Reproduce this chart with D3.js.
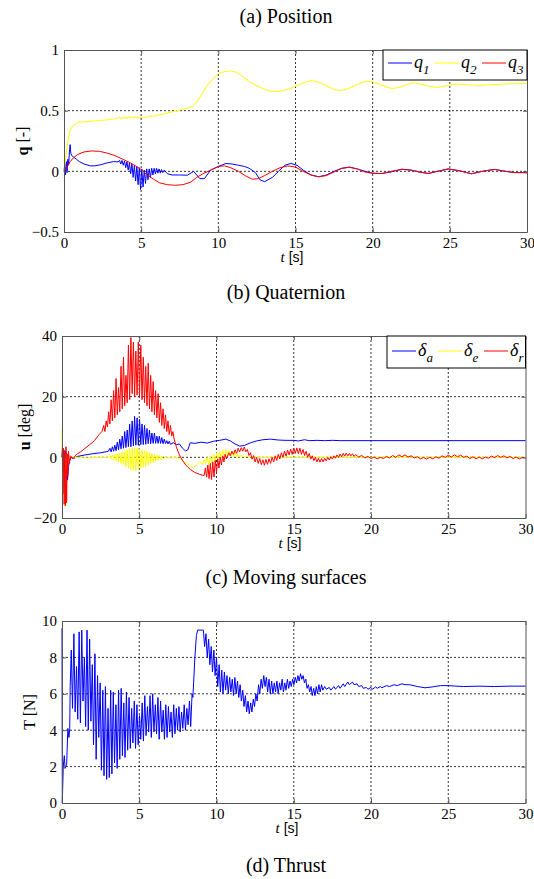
<!DOCTYPE html>
<meta charset="utf-8">
<head>
	<title>Position, quaternion, moving surfaces, thrust</title>
	<script type="text/javascript" src="https://cdn.jsdelivr.net/npm/d3@7/dist/d3.min.js"></script>
	<style>
		body { margin: 0; background: #fff; }
		.axis path { stroke: #555; }
		.axis line { stroke: #555; }
		.grid line { stroke: #000; stroke-dasharray: 2,2; stroke-width: 0.8; }
		.trace { fill: none; stroke-width: 1; stroke-linejoin: round; }
	</style>
</head>

<body>
<div id="chart"></div>

<script>
// ---- data ----
var timeTicks = [0, 5, 10, 15, 20, 25, 30];
var qTicks = [-0.5, 0, 0.5, 1];
var uTicks = [-20, 0, 20, 40];
var thrustTicks = [0, 2, 4, 6, 8, 10];

var titles = ["(a) Position", "(b) Quaternion", "(c) Moving surfaces", "(d) Thrust"];

// q1 (blue)
var q1 = [[0,0],[0.05,0.06],[0.1,-0.03],[0.15,0.08],[0.2,-0.01],[0.25,0.1],[0.3,0.05],[0.36,0.18],[0.4,0.22],[0.44,0.15],
	[0.5,0.13],[0.6,0.12],[0.8,0.1],[1.0,0.08],[1.3,0.06],[1.7,0.045],[2.0,0.045],[2.4,0.055],[2.8,0.07],[3.2,0.08],[3.5,0.078],
	[3.6,0.09],[3.68,0.06],[3.76,0.09],[3.84,0.05],[3.92,0.085],[4.0,0.03],[4.08,0.08],[4.16,0.01],[4.24,0.07],[4.32,-0.02],
	[4.4,0.06],[4.48,-0.05],[4.56,0.05],[4.64,-0.08],[4.72,0.04],[4.8,-0.11],[4.88,0.03],[4.96,-0.15],[5.04,0.02],[5.12,-0.13],
	[5.2,0.01],[5.28,-0.1],[5.36,0.02],[5.44,-0.07],[5.52,0.02],[5.6,-0.05],[5.68,0.025],[5.76,-0.03],[5.84,0.025],[5.92,-0.02],
	[6.0,0.025],[6.08,-0.015],[6.16,0.02],[6.24,-0.015],[6.32,0.015],[6.4,-0.01],[6.5,0.01],[6.7,-0.02],[7.0,-0.03],[7.5,-0.03],
	[8.0,-0.032],[8.4,0.0],[8.8,-0.06],[9.1,-0.06],[9.5,0.01],[10.0,0.04],[10.5,0.065],[10.9,0.06],[11.3,0.05],[11.7,0.04],
	[12.0,0.025],[12.4,-0.01],[12.7,-0.07],[13.0,-0.085],[13.5,-0.05],[13.9,0.0],[14.3,0.05],[14.7,0.065],[15.1,0.05],[15.5,0.01],
	[16.0,-0.03],[16.5,-0.045],[17.0,-0.03],[17.5,0.0],[18.0,0.025],[18.5,0.035],[19.0,0.02],[19.5,0.0],[20.0,-0.015],[20.6,-0.018],
	[21.2,-0.005],[21.9,0.018],[22.5,0.01],[23.0,-0.005],[23.6,-0.018],[24.2,0.0],[24.9,0.02],[25.6,0.005],[26.4,-0.02],[27.1,0.0],
	[27.9,0.016],[28.6,0.0],[29.2,-0.01],[30,-0.012]];

// q2 (yellow)
var q2 = [[0,0],[0.1,0.1],[0.2,0.2],[0.3,0.28],[0.4,0.34],[0.6,0.38],[0.8,0.395],[1.0,0.405],[1.5,0.41],[2.0,0.415],[2.5,0.42],
	[3.0,0.428],[3.4,0.435],[3.6,0.445],[3.7,0.43],[3.8,0.448],[3.9,0.432],[4.0,0.45],[4.1,0.433],[4.2,0.452],[4.3,0.435],
	[4.4,0.453],[4.5,0.436],[4.6,0.452],[4.7,0.437],[4.8,0.45],[4.9,0.438],[5.0,0.448],[5.1,0.44],[5.3,0.447],[5.5,0.45],
	[6.0,0.46],[6.5,0.475],[7.0,0.49],[7.5,0.505],[8.0,0.52],[8.3,0.535],[8.6,0.57],[9.0,0.65],[9.3,0.71],[9.7,0.77],[10.0,0.805],
	[10.4,0.822],[10.8,0.827],[11.2,0.815],[11.6,0.78],[12.0,0.74],[12.5,0.705],[13.0,0.675],[13.5,0.657],[14.0,0.66],[14.5,0.675],
	[15.0,0.7],[15.5,0.73],[16.0,0.748],[16.5,0.735],[17.0,0.705],[17.5,0.675],[17.9,0.665],[18.4,0.68],[19.0,0.715],[19.5,0.74],
	[20.0,0.738],[20.5,0.715],[21.2,0.683],[21.7,0.69],[22.2,0.715],[22.6,0.73],[23.1,0.72],[23.7,0.70],[24.2,0.69],[24.8,0.705],
	[25.5,0.72],[26.2,0.712],[27.0,0.708],[27.8,0.715],[28.6,0.72],[29.3,0.722],[30,0.725]];

// q3 (red)
var q3 = [[0,0],[0.2,0.04],[0.4,0.08],[0.6,0.11],[0.9,0.14],[1.3,0.16],[1.8,0.168],[2.3,0.165],[2.8,0.15],[3.3,0.13],[3.8,0.1],
	[4.3,0.07],[4.7,0.04],[5.0,0.015],[5.4,-0.03],[5.8,-0.065],[6.2,-0.095],[6.7,-0.11],[7.2,-0.115],[7.7,-0.11],[8.2,-0.09],
	[8.6,-0.05],[9.0,-0.02],[9.5,0.01],[10.0,0.04],[10.4,0.045],[10.8,0.03],[11.3,0.0],[11.8,-0.04],[12.2,-0.065],[12.6,-0.06],
	[13.0,-0.035],[13.5,0.0],[14.0,0.03],[14.5,0.045],[15.0,0.035],[15.5,0.0],[16.0,-0.03],[16.5,-0.045],[17.0,-0.035],[17.5,-0.005],
	[18.0,0.025],[18.5,0.033],[19.0,0.02],[19.5,-0.005],[20.0,-0.017],[20.6,-0.018],[21.2,0.0],[21.9,0.016],[22.5,0.01],[23.0,-0.005],
	[23.6,-0.017],[24.2,0.0],[24.9,0.02],[25.6,0.005],[26.4,-0.02],[27.1,0.0],[27.9,0.016],[28.6,0.0],[29.2,-0.01],[30,-0.01]];

// delta_a (blue)
var deltaA = [[0,0],[0.04,3],[0.08,-4],[0.12,2.5],[0.16,-6],[0.2,2],[0.25,-7],[0.3,1.5],[0.36,-7.5],[0.42,-3],[0.5,-1],[0.6,0],
	[0.8,-0.3],[1.0,0.3],[1.5,0.8],[2.0,1.2],[2.5,1.5],[3.0,2.0],[3.1,3],[3.18,1.8],[3.26,3.5],[3.34,2],[3.42,4],[3.5,2.2],[3.58,5],
	[3.66,2.5],[3.74,6],[3.82,2.8],[3.9,7],[3.98,3],[4.06,8.5],[4.14,3.2],[4.22,9],[4.3,3.5],[4.38,11],[4.46,3.5],[4.54,12],[4.62,3.8],
	[4.7,13.5],[4.78,4],[4.86,13],[4.94,4],[5.02,12.5],[5.1,4.2],[5.18,11],[5.26,4.2],[5.34,10.5],[5.42,4.3],[5.5,9.5],[5.58,4.5],
	[5.66,9],[5.74,4.5],[5.82,8],[5.9,4.6],[5.98,8],[6.06,4.6],[6.14,7],[6.22,4.6],[6.3,7],[6.38,4.6],[6.46,6.5],[6.54,4.5],[6.62,6],
	[6.7,4.5],[6.78,5.5],[6.86,4.4],[6.94,5.3],[7.02,4.3],[7.2,4.8],[7.4,4.2],[7.6,4.4],[7.8,3.0],[8.0,2.1],[8.15,2.5],[8.3,4.8],
	[8.6,4.6],[9.0,5.0],[9.4,4.7],[9.8,5.3],[10.2,5.6],[10.6,6.0],[10.9,5.4],[11.2,4.4],[11.5,3.7],[11.8,3.9],[12.2,4.8],[12.6,5.4],
	[13.0,5.8],[13.5,6.0],[14.0,5.7],[14.5,5.6],[15.0,5.6],[15.3,5.4],[15.7,5.8],[16.0,5.5],[16.5,5.6],[17.0,5.5],[17.5,5.6],
	[18.0,5.5],[30,5.5]];

// delta_e (yellow)
var deltaE = [[0,9],[0.04,-6],[0.08,3],[0.12,-10],[0.17,-16],[0.22,-3],[0.27,1],[0.32,-4],[0.38,0.5],[0.45,-0.6],[0.55,0.3],
	[0.8,0],[1.5,-0.2],[2.5,0],[3.0,0],[3.1,0.5],[3.18,-0.5],[3.26,0.8],[3.34,-0.8],[3.42,1],[3.5,-1.2],[3.58,1.2],[3.66,-1.5],
	[3.74,1.5],[3.82,-2],[3.9,1.8],[3.98,-2.5],[4.06,2],[4.14,-3],[4.22,2.5],[4.3,-3.5],[4.38,3],[4.46,-4],[4.54,3.2],[4.62,-4.2],
	[4.7,3],[4.78,-4.5],[4.86,3],[4.94,-4],[5.02,2.8],[5.1,-3.5],[5.18,2.5],[5.26,-3.2],[5.34,2.2],[5.42,-3],[5.5,2],[5.58,-2.5],
	[5.66,1.6],[5.74,-2],[5.82,1.3],[5.9,-1.6],[5.98,1],[6.06,-1.3],[6.14,0.8],[6.22,-1],[6.3,0.6],[6.38,-0.8],[6.46,0.4],[6.54,-0.5],
	[6.7,0.2],[6.9,-0.3],[7.2,0],[7.6,-0.3],[7.9,-1.5],[8.2,-2.4],[8.5,-3.5],[8.7,-2.5],[8.9,-1.6],[9.1,-2.2],[9.2,-0.8],[9.3,-2.2],
	[9.4,0],[9.5,-2.5],[9.6,0.5],[9.7,-2],[9.8,1],[9.9,-1.5],[10.0,1.5],[10.1,-0.8],[10.2,2],[10.3,0],[10.4,2.4],[10.5,0.5],[10.6,2.5],
	[10.7,0.6],[10.8,2.3],[10.9,0.4],[11.0,2.0],[11.1,0.2],[11.2,1.6],[11.3,0],[11.4,1.2],[11.5,0],[11.6,0.8],[11.8,0],[12.0,0.4],
	[12.3,0],[30,0]];

// delta_r (red)
var deltaR = [[0,0],[0.03,3.5],[0.06,-12],[0.1,3],[0.14,-15.5],[0.18,2],[0.22,-16],[0.26,3.5],[0.3,-15],[0.34,1],[0.38,-6],[0.42,2],
	[0.48,-2],[0.55,0.5],[0.7,-0.5],[0.9,0.8],[1.2,1.8],[1.5,3],[1.8,4.2],[2.1,5.5],[2.4,7.5],[2.6,8.6],
	[2.7,10.5],[2.78,8.5],[2.86,12],[2.94,10],[3.02,15],[3.1,11],[3.18,19],[3.26,12],[3.34,22],[3.42,13],[3.5,26],[3.58,14],
	[3.66,23],[3.74,15],[3.82,30],[3.9,16],[3.98,33],[4.06,17],[4.14,27],[4.22,18],[4.3,37],[4.38,19],[4.46,39.5],[4.54,21],
	[4.62,38],[4.7,20],[4.78,35],[4.86,20.5],[4.94,38],[5.02,20],[5.1,37],[5.18,19],[5.26,33],[5.34,18],[5.42,30],[5.5,17],
	[5.58,31],[5.66,16],[5.74,27],[5.82,15],[5.9,25],[5.98,14],[6.06,22],[6.14,13],[6.22,21],[6.3,11.5],[6.38,18],[6.46,10.5],
	[6.54,16],[6.62,9.5],[6.7,14],[6.78,8.5],[6.86,12],[6.94,7.5],[7.02,10.5],[7.1,7],[7.18,8.5],[7.26,6],
	[7.4,3.5],[7.6,0.8],[7.8,-1.0],[8.0,-2.5],[8.3,-4.0],[8.6,-5.0],[8.9,-5.6],[9.2,-6.0],
	[9.28,-3.5],[9.36,-6.5],[9.44,-2.5],[9.52,-7.0],[9.6,-2.0],[9.68,-7.3],[9.76,-1.5],[9.84,-6.5],[9.92,-1.0],[10.0,-5.0],
	[10.08,-0.5],[10.16,-3.5],[10.24,0],[10.32,-2.5],[10.4,0.5],[10.48,-1.5],[10.56,1],[10.64,-0.5],[10.8,1.5],[10.9,0.5],
	[11.0,2],[11.1,1],[11.2,2.5],[11.3,1.3],[11.4,3],[11.5,1.8],[11.6,3.2],[11.7,2],[11.8,3.4],[11.9,1.8],[12.0,2.6],[12.1,0.6],
	[12.2,1.5],[12.3,-0.6],[12.4,0.6],[12.5,-1.5],[12.6,0],[12.7,-2],[12.8,-0.4],[12.9,-2.4],[13.0,-0.8],[13.1,-2.6],[13.2,-0.7],
	[13.3,-2.3],[13.4,-0.5],[13.5,-2],[13.6,0],[13.7,-1.5],[13.8,0.5],[13.9,-1],[14.0,1],[14.1,-0.5],[14.2,1.5],[14.3,0],[14.4,2],
	[14.5,0.4],[14.6,2.4],[14.7,0.8],[14.8,2.7],[14.9,1],[15.0,3],[15.1,1.3],[15.2,3.1],[15.3,1.2],[15.4,3],[15.5,1],[15.6,2.6],
	[15.7,0.6],[15.8,2],[15.9,0],[16.0,1.3],[16.1,-0.6],[16.2,0.5],[16.3,-1.1],[16.4,0],[16.5,-1.5],[16.6,-0.3],[16.7,-1.6],
	[16.8,-0.4],[16.9,-1.5],[17.0,-0.3],[17.1,-1.2],[17.2,0],[17.3,-0.9],[17.4,0.2],[17.5,-0.6],[17.6,0.5],[17.7,-0.3],[17.8,0.8],
	[17.9,0],[18.0,1.1],[18.1,0.2],[18.2,1.3],[18.3,0.4],[18.4,1.4],[18.5,0.5],[18.6,1.3],[18.7,0.5],[18.8,1.2],[18.9,0.3],
	[19.0,0.9],[19.2,0.1],[19.4,0.6],[19.6,-0.2],[19.8,0.3],[20.0,-0.4],[20.2,0.1],[20.4,-0.5],[20.6,0],[20.8,-0.4],[21.0,0.3],
	[21.2,-0.2],[21.4,0.6],[21.6,0],[21.8,0.8],[22.0,0.2],[22.2,0.8],[22.4,0.1],[22.6,0.5],[22.8,-0.2],[23.0,0.2],[23.2,-0.5],
	[23.4,0],[23.6,-0.6],[23.8,0],[24.0,-0.5],[24.2,0.2],[24.4,-0.3],[24.6,0.5],[24.8,0],[25.0,0.7],[25.2,0.1],[25.4,0.8],
	[25.6,0.2],[25.8,0.7],[26.0,0],[26.2,0.4],[26.4,-0.4],[26.6,0.2],[26.8,-0.5],[27.0,0.1],[27.2,-0.5],[27.4,0.1],[27.6,-0.3],
	[27.8,0.4],[28.0,-0.1],[28.2,0.6],[28.4,0],[28.6,0.5],[28.8,-0.2],[29.0,0.3],[29.2,-0.4],[29.4,0.1],[29.6,-0.5],[29.8,0],[30.0,-0.3]];

// thrust T (blue)
var thrust = [[0,9.6],[0.02,0],[0.08,2.0],[0.15,2.6],[0.2,1.9],[0.3,2.1],[0.38,4.1],[0.45,3.6],[0.5,4.1],[0.53,6.4],
	[0.6,8.4],[0.68,5.2],[0.77,9.3],[0.85,5.0],[0.94,7.5],[1.02,4.6],[1.11,9.4],[1.19,4.4],[1.28,9.5],[1.36,5.6],[1.45,8.0],[1.53,4.2],
	[1.62,9.5],[1.7,4.0],[1.79,9.0],[1.87,4.5],[1.96,7.6],[2.04,3.2],[2.13,8.2],[2.21,2.4],[2.3,7.0],[2.38,3.6],[2.47,6.6],[2.55,1.8],
	[2.64,6.2],[2.72,1.5],[2.81,6.4],[2.89,1.3],[2.98,5.2],[3.06,1.4],[3.15,6.2],[3.23,1.6],[3.32,6.1],[3.4,2.2],[3.49,5.4],[3.57,1.9],
	[3.66,6.2],[3.74,2.4],[3.83,6.3],[3.91,2.6],[4.0,5.5],[4.08,2.5],[4.17,6.1],[4.25,2.9],[4.34,5.8],[4.42,3.0],[4.51,5.2],[4.59,3.3],
	[4.68,5.6],[4.76,3.0],[4.85,5.4],[4.93,3.2],[5.02,4.8],[5.1,3.5],[5.19,5.5],[5.27,3.4],[5.36,5.9],[5.44,3.7],[5.53,5.3],[5.61,3.9],
	[5.7,5.9],[5.78,3.6],[5.87,6.0],[5.95,3.9],[6.04,5.4],[6.12,3.8],[6.21,5.8],[6.29,3.5],[6.38,5.6],[6.46,3.9],[6.55,5.1],[6.63,3.5],
	[6.72,5.4],[6.8,3.6],[6.89,5.3],[6.97,3.9],[7.06,5.0],[7.14,3.6],[7.23,5.4],[7.31,3.8],[7.4,5.2],[7.48,4.0],[7.57,5.3],[7.65,3.9],
	[7.74,5.0],[7.82,4.1],[7.91,5.4],[7.99,4.0],[8.08,5.2],[8.16,4.3],[8.25,5.6],[8.33,4.2],[8.42,6.0],[8.47,5.8],[8.52,6.6],
	[8.6,8.0],[8.7,9.2],[8.78,9.5],[9.1,9.5],[9.15,9.5],[9.23,8.6],[9.32,9.3],[9.4,8.0],[9.49,9.0],[9.57,7.6],[9.66,8.6],[9.74,7.2],
	[9.83,8.4],[9.91,7.0],[10.0,8.0],[10.08,6.4],[10.17,7.6],[10.25,6.1],[10.34,7.3],[10.42,6.0],[10.51,7.2],[10.59,6.2],[10.68,7.0],
	[10.76,6.0],[10.85,6.9],[10.93,6.1],[11.02,6.8],[11.1,5.9],[11.19,6.9],[11.27,6.0],[11.36,6.7],[11.44,5.8],[11.53,6.5],[11.61,5.6],
	[11.7,6.2],[11.78,5.3],[11.87,5.9],[11.95,5.0],[12.04,5.6],[12.12,4.9],[12.21,5.5],[12.29,5.0],[12.38,5.7],[12.46,5.3],[12.55,6.0],
	[12.63,5.6],[12.72,6.5],[12.8,6.0],[12.89,6.8],[12.97,6.3],[13.06,7.0],[13.14,6.4],[13.23,6.9],[13.31,6.1],[13.4,6.8],[13.48,6.0],
	[13.57,6.7],[13.65,6.0],[13.74,6.6],[13.82,6.1],[13.91,6.7],[13.99,6.0],[14.08,6.6],[14.16,6.2],[14.25,6.8],[14.33,6.1],[14.42,6.6],
	[14.5,6.2],[14.59,6.8],[14.67,6.3],[14.76,6.7],[14.84,6.4],[14.93,6.8],[15.01,6.5],[15.1,6.9],[15.18,6.6],[15.27,7.0],[15.35,6.7],
	[15.44,7.1],[15.52,6.8],[15.61,7.0],[15.69,6.6],[15.78,6.8],[15.86,6.3],[15.95,6.5],[16.03,6.1],[16.12,6.4],[16.2,5.9],[16.29,6.3],
	[16.37,5.9],[16.46,6.4],[16.54,6.0],[16.63,6.5],[16.71,6.1],[16.8,6.5],[16.88,6.2],[17.0,6.4],[17.1,6.25],[17.3,6.35],[17.4,6.2],
	[17.6,6.4],[17.7,6.25],[17.9,6.45],[18.0,6.3],[18.2,6.55],[18.3,6.4],[18.5,6.65],[18.6,6.5],[18.8,6.65],[18.9,6.5],[19.1,6.55],
	[19.2,6.4],[19.4,6.45],[19.5,6.3],[19.7,6.35],[19.8,6.25],[20.0,6.35],[20.1,6.25],[20.3,6.38],[20.4,6.3],[20.6,6.4],[20.7,6.33],
	[21.0,6.45],[21.2,6.4],[21.5,6.5],[21.7,6.45],[22.0,6.55],[22.2,6.5],[22.5,6.5],[23.0,6.4],[23.5,6.33],[24.0,6.38],[24.5,6.45],
	[25.0,6.45],[25.5,6.42],[26.0,6.4],[27.0,6.42],[28.0,6.4],[29.0,6.42],[30,6.42]];

// ---- drawing ----
var W = 534, H = 879;
var SERIF = "'Liberation Serif', 'Times New Roman', Times, serif";
var SANS = "'Liberation Sans', Arial, sans-serif";

var svg = d3.select("#chart").append("svg")
	.attr("width", W)
	.attr("height", H);

svg.append("rect").attr("width", W).attr("height", H).attr("fill", "#fff");

function title(text, x, y) {
	svg.append("text")
		.attr("x", x).attr("y", y)
		.attr("text-anchor", "middle")
		.attr("font-family", SERIF)
		.style("font-size", "20px")
		.text(text);
}

function drawPanel(p) {
	var x = d3.scaleLinear().domain([0, 30]).range([p.left, p.right]);
	var y = d3.scaleLinear().domain(p.domain).range([p.bottom, p.top]);
	var g = svg.append("g");

	// dashed grid at the inner ticks
	g.append("g").attr("class", "grid")
		.selectAll("line").data(timeTicks.slice(1, -1)).enter().append("line")
		.attr("x1", function(d) { return x(d); }).attr("x2", function(d) { return x(d); })
		.attr("y1", p.top).attr("y2", p.bottom);
	g.append("g").attr("class", "grid")
		.selectAll("line").data(p.ticks.slice(1, -1)).enter().append("line")
		.attr("y1", function(d) { return y(d); }).attr("y2", function(d) { return y(d); })
		.attr("x1", p.left).attr("x2", p.right);

	// traces
	var line = d3.line().x(function(d) { return x(d[0]); }).y(function(d) { return y(d[1]); });
	p.series.forEach(function(s) {
		g.append("path").attr("class", "trace")
			.attr("d", line(s.data))
			.attr("stroke", s.color);
	});

	// axes, ticks pointing inwards on all four sides
	var bx = g.append("g").attr("class", "axis")
		.attr("transform", "translate(0," + p.bottom + ")")
		.call(d3.axisBottom(x).tickValues(timeTicks).tickSizeInner(-4).tickSizeOuter(0).tickPadding(5));
	bx.attr("font-family", SERIF).attr("font-size", 15);
	g.append("g").attr("class", "axis")
		.attr("transform", "translate(0," + p.top + ")")
		.call(d3.axisTop(x).tickValues(timeTicks).tickSizeInner(-4).tickSizeOuter(0).tickFormat(""));
	var ly = g.append("g").attr("class", "axis")
		.attr("transform", "translate(" + p.left + ",0)")
		.call(d3.axisLeft(y).tickValues(p.ticks).tickSizeInner(-4).tickSizeOuter(0).tickPadding(5).tickFormat(d3.format("")));
	ly.attr("font-family", SERIF).attr("font-size", 15);
	g.append("g").attr("class", "axis")
		.attr("transform", "translate(" + p.right + ",0)")
		.call(d3.axisRight(y).tickValues(p.ticks).tickSizeInner(-4).tickSizeOuter(0).tickFormat(""));
	g.selectAll(".domain").attr("stroke", "#555");

	// x label
	var xl = g.append("text")
		.attr("x", p.xLabelX).attr("y", p.bottom + 30)
		.attr("text-anchor", "middle")
		.attr("font-family", SANS)
		.style("font-size", "14px");
	xl.append("tspan").attr("font-family", SERIF).style("font-style", "italic").style("font-size", "15px").text("t");
	xl.append("tspan").text(" [s]");

	// y label
	var yl = g.append("text")
		.attr("transform", "translate(" + p.yLabelX + "," + ((p.top + p.bottom) / 2) + ") rotate(-90)")
		.attr("text-anchor", "middle")
		.attr("font-family", SERIF)
		.style("font-size", "16px");
	yl.append("tspan").style("font-weight", p.boldSymbol ? "bold" : "normal").text(p.ySymbol);
	yl.append("tspan").text(p.boldSymbol ? "  " + p.yUnit : " " + p.yUnit);

	// legend
	if (p.legend) {
		var L = p.legend;
		g.append("rect")
			.attr("x", L.x).attr("y", p.top)
			.attr("width", p.right - L.x).attr("height", L.h)
			.attr("fill", "#fff").attr("stroke", "#000").attr("stroke-width", 1);
		p.series.forEach(function(s, i) {
			var lx = L.x + 5 + i * L.step;
			g.append("line")
				.attr("x1", lx).attr("x2", lx + 24)
				.attr("y1", p.top + L.lineY).attr("y2", p.top + L.lineY)
				.attr("stroke", s.color).attr("stroke-width", 1);
			var t = g.append("text")
				.attr("x", lx + 26).attr("y", p.top + L.lineY + 5)
				.attr("font-family", SERIF)
				.style("font-size", "18px").style("font-style", "italic");
			t.append("tspan").text(L.symbol);
			t.append("tspan").attr("dy", 6).style("font-size", "13px").text(s.sub);
		});
	}
}

title(titles[0], 286, 23);

drawPanel({
	left: 64, right: 527, top: 50, bottom: 232,
	domain: [-0.5, 1], ticks: qTicks,
	ySymbol: "q", yUnit: "[-]", boldSymbol: true, yLabelX: 28,
	xLabelX: 292,
	series: [
		{ data: q1, color: "#0000ff", sub: "1" },
		{ data: q2, color: "#ffff00", sub: "2" },
		{ data: q3, color: "#ff0000", sub: "3" }
	],
	legend: { x: 383, h: 30, step: 47, lineY: 13, symbol: "q" }
});

title(titles[1], 286, 299);

drawPanel({
	left: 62, right: 525.5, top: 336, bottom: 518,
	domain: [-20, 40], ticks: uTicks,
	ySymbol: "u", yUnit: "[deg]", boldSymbol: true, yLabelX: 30,
	xLabelX: 290,
	series: [
		{ data: deltaA, color: "#0000ff", sub: "a" },
		{ data: deltaE, color: "#ffff00", sub: "e" },
		{ data: deltaR, color: "#ff0000", sub: "r" }
	],
	legend: { x: 387, h: 32, step: 46, lineY: 15, symbol: "δ" }
});

title(titles[2], 286, 584);

drawPanel({
	left: 62, right: 525.5, top: 621, bottom: 803,
	domain: [0, 10], ticks: thrustTicks,
	ySymbol: "T", yUnit: "[N]", boldSymbol: false, yLabelX: 35,
	xLabelX: 287,
	series: [
		{ data: thrust, color: "#0000ff", sub: "" }
	]
});

title(titles[3], 286, 872);
</script>
</body>
